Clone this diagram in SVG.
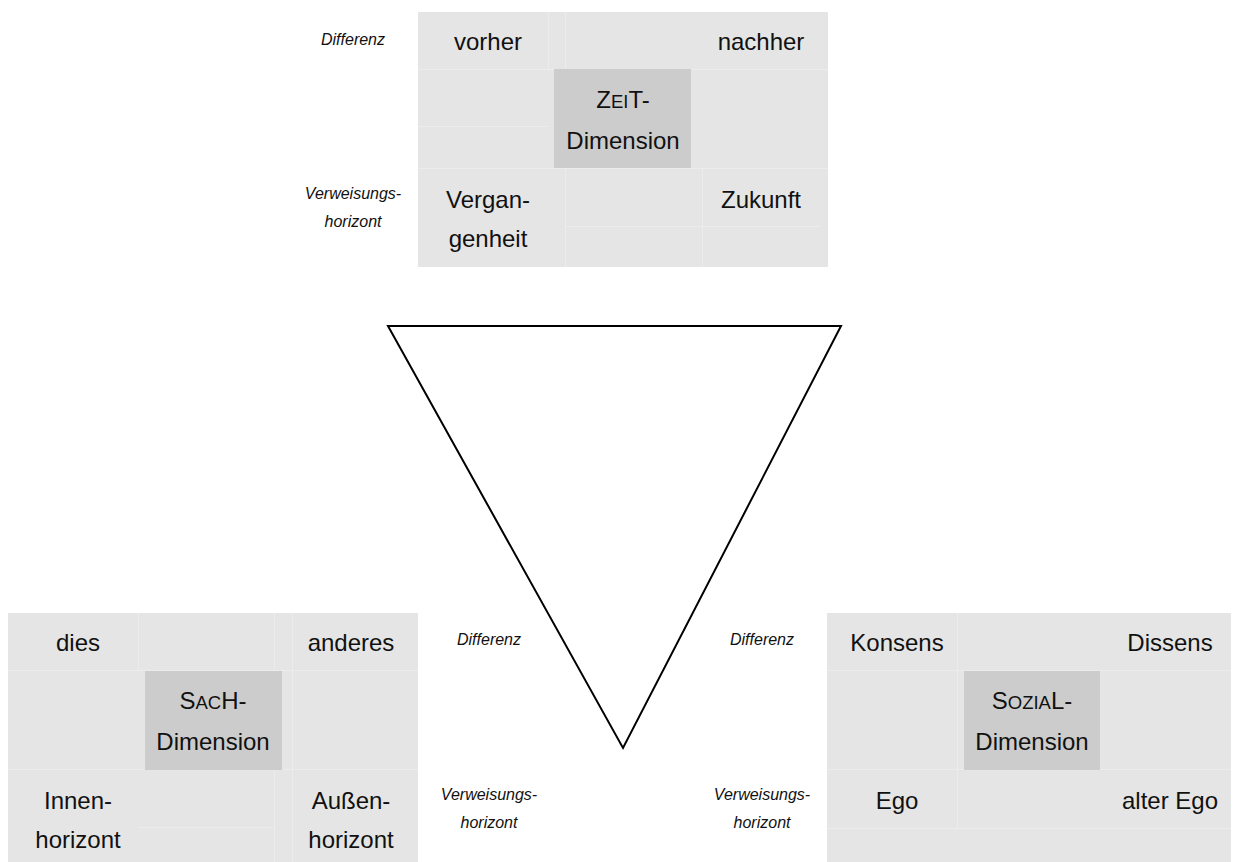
<svg xmlns="http://www.w3.org/2000/svg" width="1238" height="862" viewBox="0 0 1238 862">
<style>
.bg{fill:#e5e5e5}
.dk{fill:#cccccc}
.gl{stroke:#ececec;stroke-width:1;fill:none}
.t{font-family:"Liberation Sans",Arial,sans-serif;font-size:24px;fill:#111;text-anchor:middle}
.sc{font-size:18.5px}
.lb{font-family:"Liberation Sans",Arial,sans-serif;font-size:16px;font-style:italic;fill:#111;text-anchor:middle}
.tri{fill:none;stroke:#000;stroke-width:2;stroke-linejoin:miter}
</style>
<rect width="1238" height="862" fill="#fff"/>

<g id="zeit" transform="translate(418,12)">
  <rect class="bg" x="0" y="0" width="410" height="255"/>
  <path class="gl" d="M130.5,0V57M147.5,0V255M0,57.5H410M0,156.5H410M147,214.5H402M284.5,156V255M0,114.5H130"/>
  <rect class="dk" x="136" y="57" width="137" height="99"/>
  <text class="t" x="70" y="38">vorher</text>
  <text class="t" x="343" y="38">nachher</text>
  <text class="t" x="205" y="96">Z<tspan class="sc">EI</tspan>T-</text>
  <text class="t" x="205" y="137">Dimension</text>
  <text class="t" x="70" y="196">Vergan-</text>
  <text class="t" x="70" y="235">genheit</text>
  <text class="t" x="343" y="196">Zukunft</text>
  <text class="lb" x="-65" y="33">Differenz</text>
  <text class="lb" x="-65" y="187">Verweisungs-</text>
  <text class="lb" x="-65" y="215">horizont</text>
</g>

<g id="triangle">
  <path class="tri" d="M388,326H841L623,748Z"/>
</g>

<g id="sach" transform="translate(8,613)">
  <rect class="bg" x="0" y="0" width="410" height="255"/>
  <path class="gl" d="M130.5,0V57M266.5,0V255M284.5,0V255M0,57.5H410M0,156.5H410M130,214.5H266"/>
  <rect class="dk" x="137" y="58" width="137" height="99"/>
  <text class="t" x="70" y="38">dies</text>
  <text class="t" x="343" y="38">anderes</text>
  <text class="t" x="205" y="96">S<tspan class="sc">AC</tspan>H-</text>
  <text class="t" x="205" y="137">Dimension</text>
  <text class="t" x="70" y="196">Innen-</text>
  <text class="t" x="70" y="235">horizont</text>
  <text class="t" x="343" y="196">Außen-</text>
  <text class="t" x="343" y="235">horizont</text>
  <text class="lb" x="481" y="32">Differenz</text>
  <text class="lb" x="481" y="187">Verweisungs-</text>
  <text class="lb" x="481" y="215">horizont</text>
</g>

<g id="sozial" transform="translate(827,613)">
  <rect class="bg" x="0" y="0" width="404" height="255"/>
  <path class="gl" d="M130.5,0V215M0,57.5H404M0,156.5H404M0,215.5H404"/>
  <rect class="dk" x="137" y="58" width="136" height="99"/>
  <text class="t" x="70" y="38">Konsens</text>
  <text class="t" x="343" y="38">Dissens</text>
  <text class="t" x="205" y="96">S<tspan class="sc">OZIA</tspan>L-</text>
  <text class="t" x="205" y="137">Dimension</text>
  <text class="t" x="70" y="196">Ego</text>
  <text class="t" x="343" y="196">alter Ego</text>
  <text class="lb" x="-65" y="32">Differenz</text>
  <text class="lb" x="-65" y="187">Verweisungs-</text>
  <text class="lb" x="-65" y="215">horizont</text>
</g>
</svg>
